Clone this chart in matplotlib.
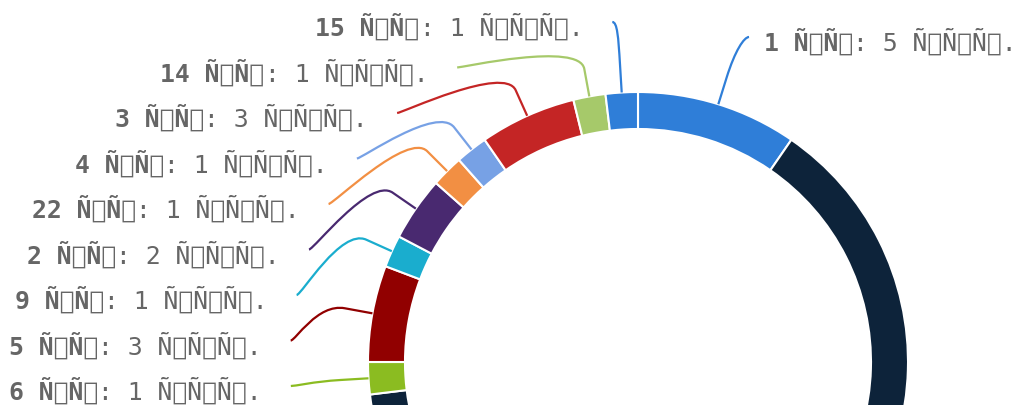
import warnings
import numpy as np
import matplotlib.pyplot as plt
from matplotlib.path import Path
from matplotlib.patches import PathPatch

warnings.filterwarnings("ignore", message="Glyph")

# slices, clockwise from 12 o'clock (Highcharts donut)
names = ["1", "", "6", "5", "9", "2", "22", "4", "3", "14", "15"]
values = [5, 33, 1, 3, 1, 2, 1, 1, 3, 1, 1]
colors = ["#2f7ed8", "#0d233a", "#8bbc21", "#910000", "#1aadce", "#492970",
          "#f28f43", "#77a1e5", "#c42525", "#a6c96a", "#2f7ed8"]
# mis-decoded utf-8 ("шт", "тыс.") as it shows in the source chart
unit_a = "Ñ\x88Ñ\x82"
unit_b = "Ñ\x82Ñ\x8bÑ\x81."

# layout, in pixels from the top-left corner
W, H = 1022, 406
cx, cy = 638, 363
R = 270
ring = 37
label_r = 343
pad = 5
break_off = 28
slot_bottom = 387
slot_step = 45.5
right_slot = 38
fs = 17.8
adv = 0.602 * fs * 100 / 72
text_color = "#666666"

fig = plt.figure(figsize=(W / 100, H / 100), dpi=100, facecolor="white")
ax = fig.add_axes([0, 0, 1, 1])
ax.pie(values, colors=colors, startangle=90, counterclock=False,
       radius=R, center=(cx, H - cy),
       wedgeprops=dict(width=ring, edgecolor="white", linewidth=1.5))
ax.set_xlim(0, W)
ax.set_ylim(0, H)
ax.set_aspect("equal")
ax.axis("off")


def pt(a, r):
    return np.array([cx + r * np.sin(a), H - (cy - r * np.cos(a))])


def get_x(y_px, left):
    dy = np.clip(y_px - cy, -label_r, label_r)
    d = np.sqrt(label_r ** 2 - dy ** 2) + pad
    return cx - d if left else cx + d


total = sum(values)
cum = np.cumsum([0] + values[:-1])
angles = [2 * np.pi * (c + v / 2) / total for c, v in zip(cum, values)]

left_ids = sorted([i for i in range(len(values)) if names[i] and np.sin(angles[i]) < 0],
                  key=lambda i: angles[i])
right_ids = [i for i in range(len(values)) if names[i] and np.sin(angles[i]) >= 0]

slots = {}
for k, i in enumerate(left_ids):
    slots[i] = slot_bottom - k * slot_step
for i in right_ids:
    slots[i] = right_slot

for i in left_ids + right_ids:
    a = angles[i]
    left = np.sin(a) < 0
    y_slot = slots[i]
    natural = cy - label_r * np.cos(a)
    y_for_x = natural if y_slot < cy - label_r + 25 else y_slot
    lx = get_x(y_for_x, left)
    if not left:
        lx += 4
    L = np.array([lx, H - y_slot])
    c1 = L + np.array([5 if left else -5, 0])
    B = pt(a, R + break_off)
    T = pt(a, R)
    c2 = 2 * B - T
    path = Path([L, c1, c2, B, T],
                [Path.MOVETO, Path.CURVE4, Path.CURVE4, Path.CURVE4, Path.LINETO])
    ax.add_patch(PathPatch(path, facecolor="none", edgecolor=colors[i], lw=1.6))

    bold_txt = f"{names[i]} {unit_a}"
    norm_txt = f": {values[i]} {unit_b}"
    yb = H - (y_slot + 13)
    if left:
        xr = lx - 29
        ax.text(xr, yb, norm_txt, ha="right", va="baseline", fontsize=fs,
                family="DejaVu Sans Mono", color=text_color)
        ax.text(xr - len(norm_txt) * adv, yb, bold_txt, ha="right", va="baseline",
                fontsize=fs, family="DejaVu Sans Mono", weight="bold", color=text_color)
    else:
        xl = lx + 15
        ax.text(xl, yb, bold_txt, ha="left", va="baseline", fontsize=fs,
                family="DejaVu Sans Mono", weight="bold", color=text_color)
        ax.text(xl + len(bold_txt) * adv, yb, norm_txt, ha="left", va="baseline",
                fontsize=fs, family="DejaVu Sans Mono", color=text_color)

fig.savefig("out.png", dpi=100, facecolor="white")
